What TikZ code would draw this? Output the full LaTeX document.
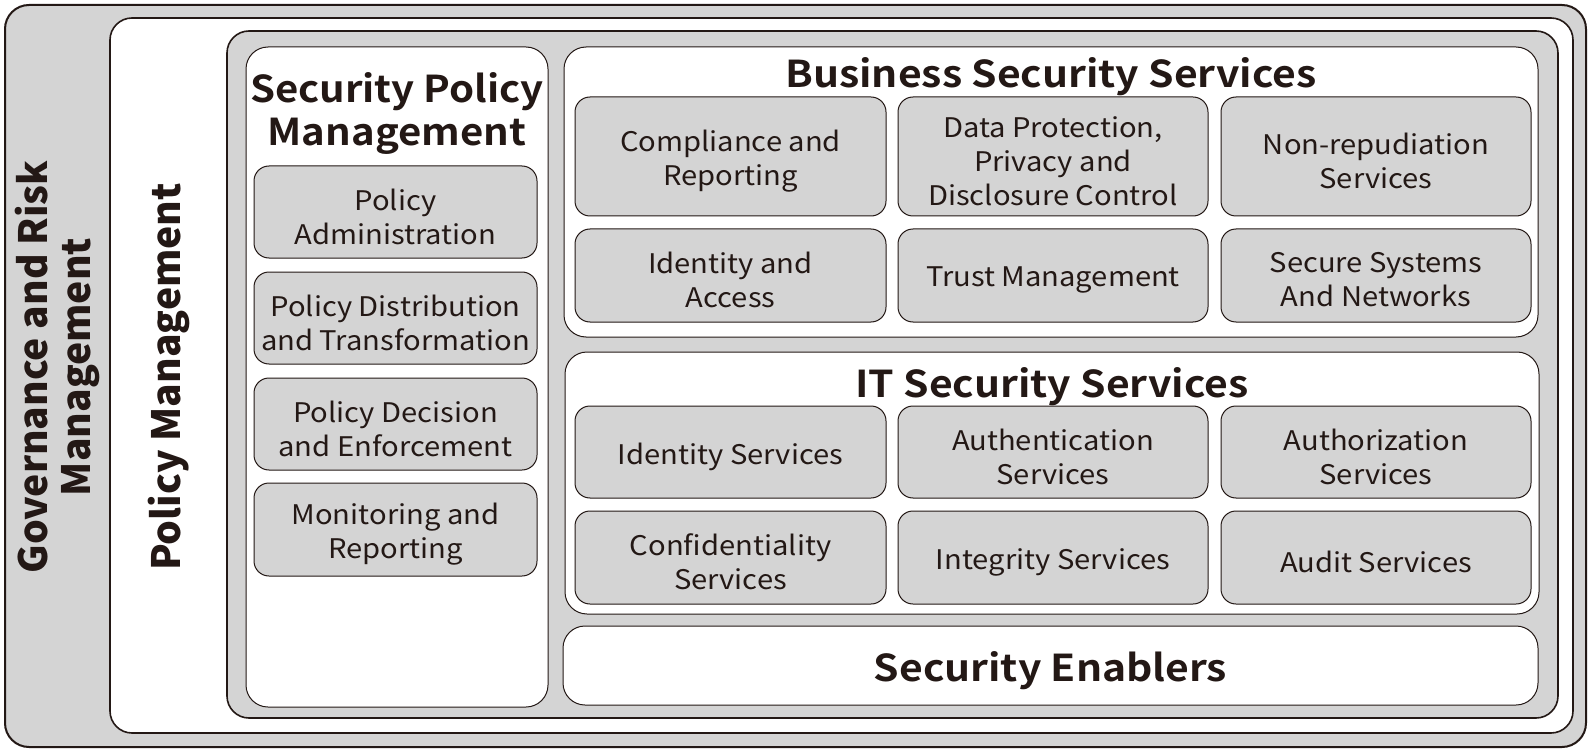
\documentclass[tikz,border=0pt]{standalone}
\usepackage{fontspec}
\setmainfont{Noto Sans CJK JP}
\newfontfamily\widefont[FakeStretch=1.08]{Noto Sans CJK JP}
\newfontfamily\widebold[FakeStretch=1.105]{Noto Sans CJK JP Bold}
\newfontfamily\midbold[FakeStretch=1.085]{Noto Sans CJK JP Bold}
\definecolor{ink}{HTML}{231815}
\definecolor{boxgray}{HTML}{D4D4D4}
\newcommand\itembox[5]{%
  \node[graybox, minimum width=#3, minimum height=#4] (#1) at #2 {};
  \node[itemtext] (#1t) at ([yshift=-4.5pt]#1.center) {#5};}
\begin{document}
\begin{tikzpicture}[x=1pt,y=-1pt,
  frame/.style={draw=ink, rounded corners=#1, inner sep=0pt, outer sep=0pt},
  graybox/.style={frame=15, fill=boxgray, line width=1pt},
  itemtext/.style={text=ink, align=center, inner sep=0pt,
    font=\widefont\fontsize{27}{34}\selectfont},
  whitebox/.style={frame=22, fill=white, line width=1pt},
  titletext/.style={text=ink, align=center, inner sep=0pt, font=\widebold\fontsize{37}{43}\selectfont},
  sidetext/.style={text=ink, align=center, rotate=90, font=\fontsize{39}{43}\selectfont\bfseries}]
\useasboundingbox (0,0) rectangle (1593,754);
% outer frames
\node[frame=24, fill=boxgray, line width=2pt, minimum width=1581pt, minimum height=742pt] (gov) at (795.5,376) {};
\node[frame=22, fill=white, line width=1.6pt, minimum width=1463pt, minimum height=715pt] (pol) at (841.5,375.5) {};
\node[frame=22, fill=boxgray, line width=1.6pt, minimum width=1331pt, minimum height=687pt] (core) at (892.5,374.5) {};
% side labels
\node[sidetext] (govt) at (57,367) {Governance and Risk\\Management};
\node[sidetext] (polt) at (169,377) {Policy Management};
% white containers
\node[whitebox, minimum width=302pt, minimum height=660pt] (spm) at (397,377) {};
\node[whitebox, minimum width=974pt, minimum height=290pt] (bss) at (1051,192) {};
\node[whitebox, minimum width=974pt, minimum height=262pt] (its) at (1052,483) {};
\node[whitebox, minimum width=975pt, minimum height=79pt] (se) at (1050.5,665.5) {};
% titles
\node[titletext, font=\midbold\fontsize{37}{43}\selectfont] (spmt) at (397,113) {Security Policy\\Management};
\node[titletext] (bsst) at (1051,76.5) {Business Security Services};
\node[titletext] (itst) at (1052,387) {IT Security Services};
\node[titletext] (set) at (1050.5,671) {Security Enablers};
% SPM items
\itembox{p1}{(395.5,212)}{283pt}{92pt}{Policy\\Administration}
\itembox{p2}{(395.5,318)}{283pt}{92pt}{Policy Distribution\\and Transformation}
\itembox{p3}{(395.5,424)}{283pt}{92pt}{Policy Decision\\and Enforcement}
\itembox{p4}{(395.5,529.5)}{283pt}{93pt}{Monitoring and\\Reporting}
% BSS items
\itembox{b1}{(730.5,156.5)}{311pt}{119pt}{Compliance and\\Reporting}
\itembox{b2}{(1053,156.5)}{310pt}{119pt}{Data Protection,\\Privacy and\\Disclosure Control}
\itembox{b3}{(1376,156.5)}{310pt}{119pt}{Non-repudiation\\Services}
\itembox{b4}{(730.5,275.5)}{311pt}{93pt}{Identity and\\Access}
\itembox{b5}{(1053,275.5)}{310pt}{93pt}{Trust Management}
\itembox{b6}{(1376,275.5)}{310pt}{93pt}{Secure Systems\\And Networks}
% IT items
\itembox{i1}{(730.5,452)}{311pt}{92pt}{Identity Services}
\itembox{i2}{(1053,452)}{310pt}{92pt}{Authentication\\Services}
\itembox{i3}{(1376,452)}{310pt}{92pt}{Authorization\\Services}
\itembox{i4}{(730.5,557.5)}{311pt}{93pt}{Confidentiality\\Services}
\itembox{i5}{(1053,557.5)}{310pt}{93pt}{Integrity Services}
\itembox{i6}{(1376,557.5)}{310pt}{93pt}{Audit Services}
\end{tikzpicture}
\end{document}
